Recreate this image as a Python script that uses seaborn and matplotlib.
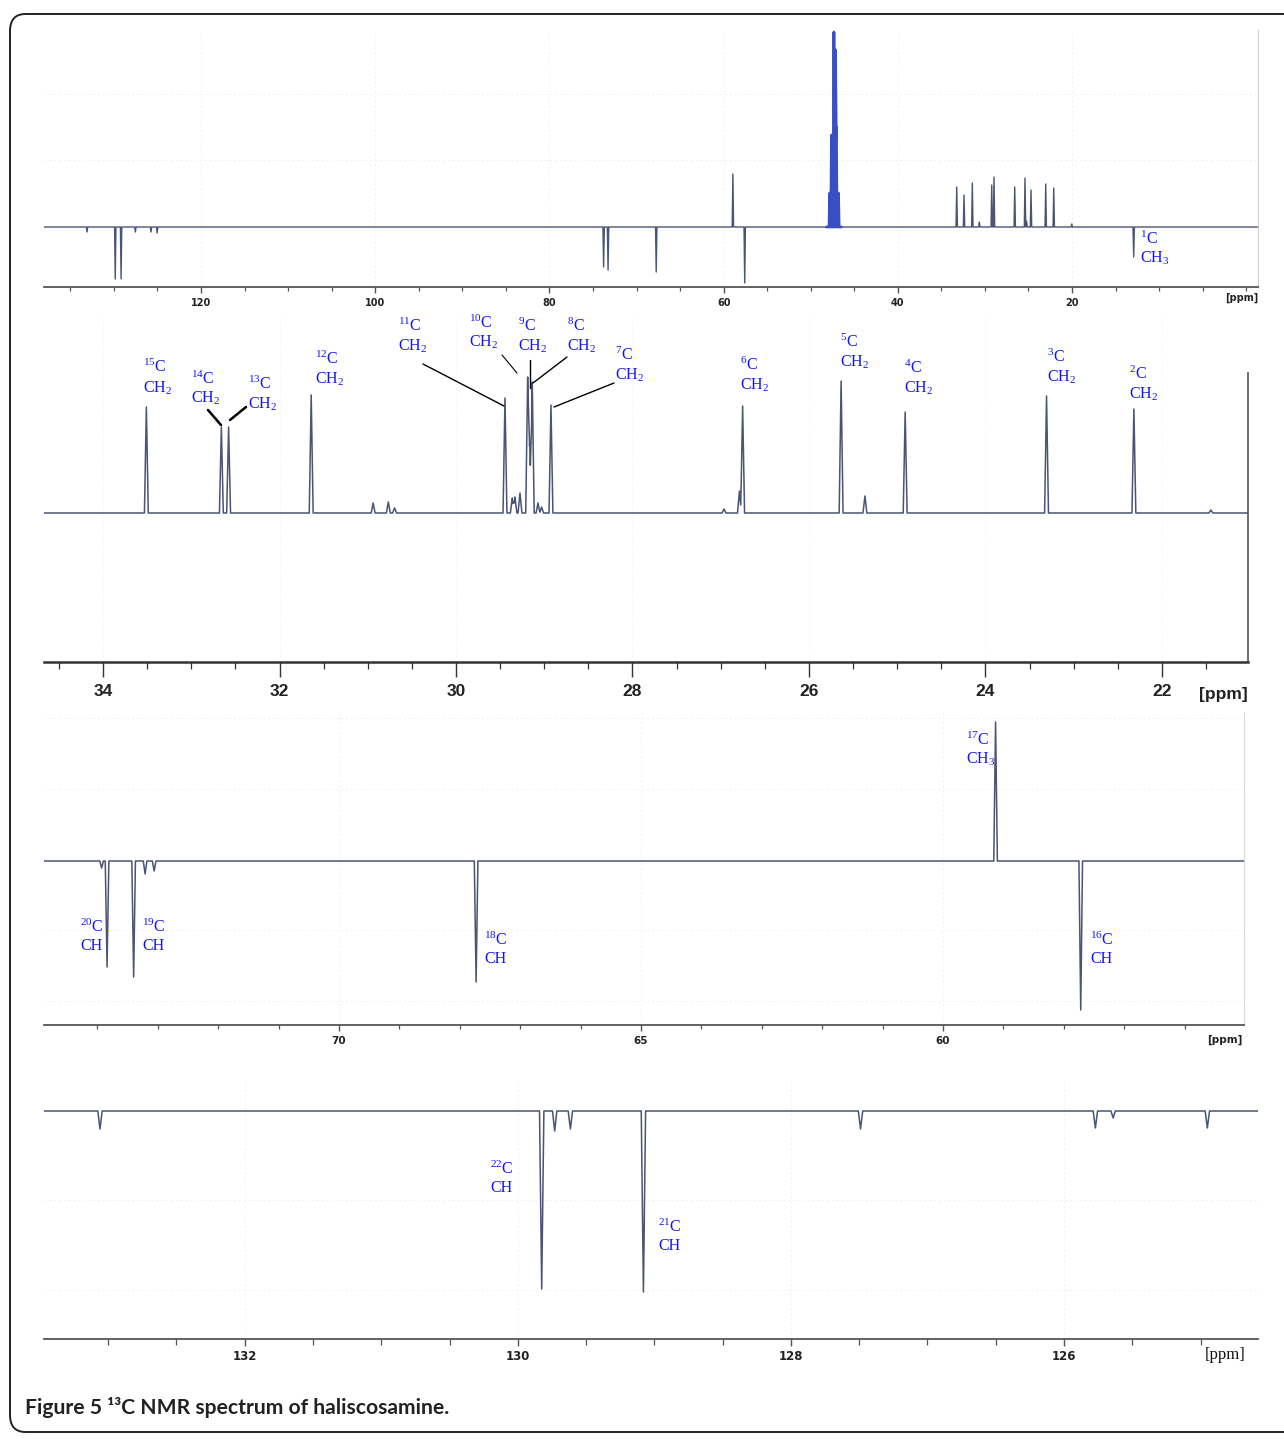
import numpy as np
import pandas as pd
import matplotlib
matplotlib.use("Agg")
import matplotlib.pyplot as plt
import seaborn as sns
from matplotlib.patches import FancyBboxPatch
from matplotlib.lines import Line2D
from matplotlib.ticker import MultipleLocator

# ------------------------------------------------------------------ data
# Panel 1 : full spectrum (ppm, signed intensity)
p1_ppm = [133.09, 129.85, 129.18, 127.54, 125.75, 125.04, 73.78, 73.27, 67.74,
          58.94, 57.58, 33.24, 32.40, 31.45, 30.65, 29.22, 28.96, 26.58, 25.40,
          25.22, 24.71, 23.02, 22.10, 20.03, 12.92]
p1_int = [-5, -52, -52, -5, -5, -6, -40, -43, -45,
          53, -56, 40, 32, 44, 5, 42, 50, 40, 49,
          6, 37, 43, 39, 3, -30]
solvent_ppm = [47.82, 47.62, 47.34, 47.15, 47.06, 46.82]
solvent_int = [34, 92, 195, 177, 100, 34]
p1_ticks = [120, 100, 80, 60, 40, 20]

# Panel 2 : 21-35 ppm expansion
p2_ppm = [33.509, 32.659, 32.577, 31.641, 30.939, 30.767, 30.696, 29.445, 29.362,
          29.332, 29.275, 29.188, 29.165, 29.136, 29.071, 29.030, 28.924, 26.963,
          26.788, 26.752, 25.636, 25.366, 24.910, 23.308, 22.318, 21.446]
p2_int = [106, 86, 86, 118, 10, 11, 5, 115, 15,
          16, 20, 136, 70, 131, 10, 6, 108, 4,
          22, 107, 132, 17, 101, 117, 104, 3]
p2_ticks = [34, 32, 30, 28, 26, 24, 22]

# Panel 3 : 55-75 ppm expansion
p3_ppm = [73.93, 73.84, 73.40, 73.21, 73.06, 67.73, 59.13, 57.72]
p3_int = [-7, -106, -116, -13, -10, -121, 139, -149]
p3_ticks = [70, 65, 60]

# Panel 4 : 124.5-133.5 ppm expansion
p4_ppm = [133.06, 129.825, 129.73, 129.615, 129.08, 127.49, 125.77, 125.64, 124.95]
p4_int = [-18, -178, -20, -18, -181, -18, -17, -7, -17]
p4_ticks = [132, 130, 128, 126]

# peak assignments: (carbon number, group)
p1_labels = [("1", "CH$_3$")]
p2_labels = [("15", "CH$_2$"), ("14", "CH$_2$"), ("13", "CH$_2$"), ("12", "CH$_2$"),
             ("11", "CH$_2$"), ("10", "CH$_2$"), ("9", "CH$_2$"), ("8", "CH$_2$"),
             ("7", "CH$_2$"), ("6", "CH$_2$"), ("5", "CH$_2$"), ("4", "CH$_2$"),
             ("3", "CH$_2$"), ("2", "CH$_2$")]
p3_labels = [("20", "CH"), ("19", "CH"), ("18", "CH"), ("17", "CH$_3$"), ("16", "CH")]
p4_labels = [("22", "CH"), ("21", "CH")]

caption = "Figure 5 \u00b9\u00b3C NMR spectrum of haliscosamine."

# ------------------------------------------------------------------ layout (pixels)
W, H = 1284, 1439
p1_label_pos = [(1140, 239, 258)]
p2_label_pos = [(143, 367, 388), (191, 379, 398), (248, 384, 404), (315, 359, 379),
                (398, 326, 346), (469, 323, 342), (518, 326, 346), (567, 326, 346),
                (615, 355, 375), (740, 365, 385), (840, 342, 362), (904, 368, 388),
                (1047, 357, 377), (1129, 374, 394)]
p3_label_pos = [(80, 927, 946), (142, 927, 946), (484, 940, 959), (966, 740, 759),
                (1090, 940, 959)]
p4_label_pos = [(490, 1169, 1188), (658, 1227, 1246)]
leaders = [((208, 410), (221, 425), 1.8), ((246, 407), (230, 420), 1.8),
           ((423, 364), (504, 406), 1.0), ((502, 355), (517, 373), 0.8),
           ((530, 360), (530, 388), 1.0), ((567, 357), (533, 383), 1.0),
           ((614, 383), (554, 407), 1.0)]

sns.set_style("white")
plt.rcParams["font.family"] = ["DejaVu Sans"]
plt.rcParams["mathtext.fontset"] = "custom"
plt.rcParams["mathtext.rm"] = "Liberation Serif"
plt.rcParams["mathtext.it"] = "Liberation Serif:italic"
plt.rcParams["mathtext.bf"] = "Liberation Serif:bold"

LINE = "#4a5474"
BLUE = "#1515ee"


def trace(ppm, inten, lo, hi, hw):
    ppm = np.asarray(ppm, float)
    inten = np.asarray(inten, float)
    xs = np.unique(np.concatenate([[lo, hi], ppm - hw, ppm, ppm + hw]))
    xs = xs[(xs >= lo) & (xs <= hi)]
    ys = np.zeros_like(xs)
    for p, h in zip(ppm, inten):
        ys += h * np.clip(1 - np.abs(xs - p) / hw, 0, None)
    return pd.DataFrame({"ppm": xs[::-1], "intensity": ys[::-1]})


fig = plt.figure(figsize=(W / 100, H / 100), dpi=100)


def add_axes(l, t, r, b):
    return fig.add_axes([l / W, 1 - b / H, (r - l) / W, (b - t) / H])


def fx(px):
    return px / W


def fy(py):
    return 1 - py / H


def style_axis(ax, xlim, ylim, ticks, minor, gridy, tick_font, tick_size, major_len,
               minor_len, pad, spine_color, spine_lw, grid_color):
    ax.set_xlim(*xlim)
    ax.set_ylim(*ylim)
    ax.set_xticks(ticks, labels=[str(t) for t in ticks], fontsize=tick_size,
                  fontweight="bold", fontfamily=tick_font, color="#222222")
    ax.xaxis.set_minor_locator(MultipleLocator(minor))
    ax.set_yticks(gridy)
    ax.tick_params(axis="y", length=0, labelleft=False)
    ax.tick_params(axis="x", which="major", direction="out", length=major_len,
                   width=1.0, color=spine_color, pad=pad, bottom=True)
    ax.tick_params(axis="x", which="minor", direction="out", length=minor_len,
                   width=0.9, color=spine_color, bottom=True)
    for s in ["top", "left", "right"]:
        ax.spines[s].set_visible(False)
    ax.spines["bottom"].set_color(spine_color)
    ax.spines["bottom"].set_linewidth(spine_lw)
    ax.grid(True, which="major", color=grid_color, lw=0.7, ls=(0, (2, 3)))
    ax.set_xlabel("")
    ax.set_ylabel("")
    ax.set_facecolor("none")


# ---------------- panel 1
ax1 = add_axes(44, 30, 1258, 287)
xl1 = (138.03, -1.35)
df1 = trace(p1_ppm + solvent_ppm, p1_int + solvent_int, -1.35, 138.03, 0.08)
sns.lineplot(data=df1, x="ppm", y="intensity", ax=ax1, sort=False, estimator=None,
             color=LINE, lw=1.0)
dfs = trace(solvent_ppm, solvent_int, 46.5, 48.2, 0.08)
sns.lineplot(data=dfs, x="ppm", y="intensity", ax=ax1, sort=False, estimator=None,
             color="#3b4fc4", lw=2.0)
style_axis(ax1, xl1, (-60, 197), p1_ticks, 5, [133, 67], "DejaVu Sans", 7, 4, 3, 4,
           "#555555", 1.3, "#f0f0f0")
ax1.spines["right"].set_visible(True)
ax1.spines["right"].set_color("#d0d0d0")

# ---------------- panel 2
ax2 = add_axes(44, 312, 1248, 662)
xl2 = (34.669, 21.025)
df2 = trace(p2_ppm, p2_int, 21.025, 34.669, 0.022)
sns.lineplot(data=df2, x="ppm", y="intensity", ax=ax2, sort=False, estimator=None,
             color=LINE, lw=1.1)
style_axis(ax2, xl2, (-149, 201), p2_ticks, 0.5, [], "Liberation Sans", 12.5, 11, 5, 5,
           "#333333", 1.8, "#f4f4f4")
ax2.grid(False, axis="y")
ax2.spines["right"].set_visible(True)
ax2.spines["right"].set_color("#555555")
ax2.spines["right"].set_linewidth(1.2)
ax2.spines["right"].set_bounds(-149, 513 - 373)

# ---------------- panel 3
ax3 = add_axes(44, 712, 1244, 1025)
xl3 = (74.884, 55.017)
df3 = trace(p3_ppm, p3_int, 55.017, 74.884, 0.03)
sns.lineplot(data=df3, x="ppm", y="intensity", ax=ax3, sort=False, estimator=None,
             color=LINE, lw=1.1)
style_axis(ax3, xl3, (-164, 149), p3_ticks, 1, [143, 72, -69, -140], "DejaVu Sans",
           7.5, 4, 3, 4, "#555555", 1.3, "#f0f0f0")
ax3.spines["right"].set_visible(True)
ax3.spines["right"].set_color("#d8d8d8")

# ---------------- panel 4
ax4 = add_axes(44, 1080, 1258, 1339)
xl4 = (133.47, 124.579)
df4 = trace(p4_ppm, p4_int, 124.579, 133.47, 0.016)
sns.lineplot(data=df4, x="ppm", y="intensity", ax=ax4, sort=False, estimator=None,
             color=LINE, lw=1.1)
style_axis(ax4, xl4, (-228, 31), p4_ticks, 0.5, [-89, -179], "DejaVu Sans", 8.5, 5, 4,
           3, "#555555", 1.3, "#f0f0f0")

# ---------------- ppm unit labels
fig.text(fx(1258), fy(298), "[ppm]", ha="right", va="center", fontsize=7,
         fontweight="bold", color="#222222")
fig.text(fx(1248), fy(694), "[ppm]", ha="right", va="center", fontsize=12.5,
         fontweight="bold", family="Liberation Sans", color="#222222")
fig.text(fx(1243), fy(1040), "[ppm]", ha="right", va="center", fontsize=7.5,
         fontweight="bold", color="#222222")
fig.text(fx(1246), fy(1355), "[ppm]", ha="right", va="center", fontsize=12,
         family="Liberation Serif", color="#111111")

# ---------------- peak assignment labels
for labels, pos in [(p1_labels, p1_label_pos), (p2_labels, p2_label_pos),
                    (p3_labels, p3_label_pos), (p4_labels, p4_label_pos)]:
    for (num, grp), (x, y1, y2) in zip(labels, pos):
        fig.text(fx(x), fy(y1), "$^{%s}$C" % num, ha="left", va="center",
                 fontsize=11.5, family="Liberation Serif", color=BLUE)
        fig.text(fx(x), fy(y2), grp, ha="left", va="center",
                 fontsize=11.5, family="Liberation Serif", color=BLUE)

for (x1, y1), (x2, y2), lw in leaders:
    fig.add_artist(Line2D([fx(x1), fx(x2)], [fy(y1), fy(y2)],
                          transform=fig.transFigure, color="black", lw=lw))

# ---------------- caption and frame
fig.text(fx(25), fy(1407), caption, ha="left", va="center", fontsize=15.2,
         fontweight="bold", family=["Lato", "DejaVu Sans"], color="#222222")

frame = FancyBboxPatch((fx(10), fy(1432)), fx(1300) - fx(10), fy(14) - fy(1432),
                       boxstyle="round,pad=0,rounding_size=0.012",
                       transform=fig.transFigure, fill=False, ec="#222222", lw=1.4,
                       clip_on=False)
fig.add_artist(frame)

fig.savefig("out.png", dpi=100, facecolor="white")
